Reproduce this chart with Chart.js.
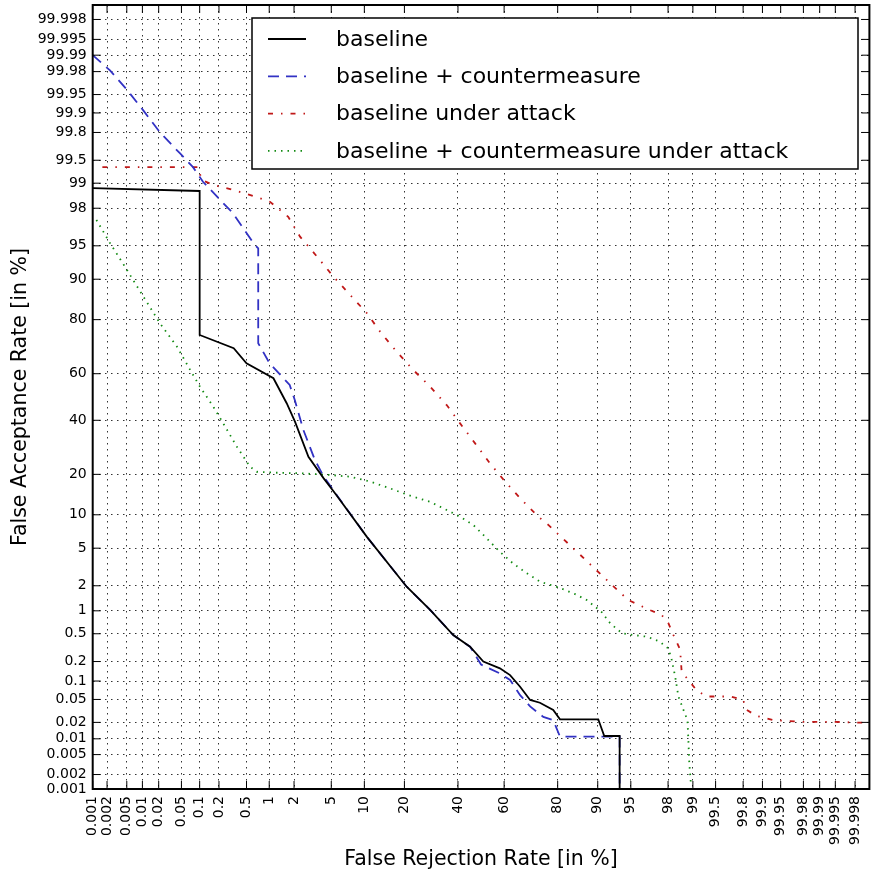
<!DOCTYPE html>
<html>
<head>
<meta charset="utf-8">
<script src="https://cdn.jsdelivr.net/npm/chart.js@4.4.0/dist/chart.umd.min.js"></script>
<style>
  html, body { margin: 0; padding: 0; background: #fff; }
  #wrap { width: 871px; height: 877px; }
</style>
</head>
<body>
<div id="wrap"><canvas id="det" width="871" height="877"></canvas></div>
<script>
// --- tick values / labels (same on both axes, in %) ---
const tickValues = [0.001, 0.002, 0.005, 0.01, 0.02, 0.05, 0.1, 0.2, 0.5, 1, 2, 5, 10, 20, 40, 60, 80,
  90, 95, 98, 99, 99.5, 99.8, 99.9, 99.95, 99.98, 99.99, 99.995, 99.998];
const tickLabels = ['0.001', '0.002', '0.005', '0.01', '0.02', '0.05', '0.1', '0.2', '0.5', '1', '2', '5', '10', '20', '40', '60', '80',
  '90', '95', '98', '99', '99.5', '99.8', '99.9', '99.95', '99.98', '99.99', '99.995', '99.998'];
const axisMin = 0.001, axisMax = 99.999;

// --- curves: FRR (x) and FAR (y), both in % ---
const baseFRR = [0.001, 0.1, 0.1, 0.33, 0.5, 1.13, 1.64, 2.05, 2.9, 4.2, 5.6, 10.5, 20.7, 28.8, 38, 45.2, 51, 58.2,
  62.5, 66.6, 70.5, 74.1, 78.6, 80.7, 90.1, 91.2, 93.6, 93.6];
const baseFAR = [98.85, 98.75, 75, 70.2, 64.3, 58.1, 47.3, 39.4, 25.8, 18.8, 14.3, 6.4, 1.95, 1.03, 0.48, 0.33, 0.2, 0.158,
  0.124, 0.081, 0.049, 0.044, 0.033, 0.0227, 0.0227, 0.0113, 0.0113, 0.001];

const cmFRR = [0.001, 0.0023, 0.0051, 0.0103, 0.0211, 0.047, 0.078, 0.113, 0.208, 0.32, 0.62, 0.72, 0.72, 1.01, 1.78,
  2.04, 2.55, 3.4, 4.2, 5.8, 10.5, 20.7, 28.8, 38, 45.2, 50, 58.2, 62.5, 66.6, 70.5, 75.3, 78.6, 80.7, 93.6, 93.6];
const cmFAR = [99.99, 99.981, 99.958, 99.91, 99.8, 99.6, 99.38, 99.04, 98.4, 97.74, 95.3, 94.7, 72.1, 64.3, 55.2,
  48.7, 36, 24.7, 19.3, 13.9, 6.4, 1.95, 1.03, 0.48, 0.33, 0.18, 0.132, 0.104, 0.059, 0.038, 0.025, 0.022, 0.011, 0.011, 0.001];

const atkFRR = [0.0016, 0.094, 0.108, 0.162, 0.32, 0.51, 1.02, 1.71, 2.34, 3.7, 5.24, 7.5, 10.5, 13.4, 17.7, 22.8,
  28.8, 35.3, 40.9, 47.4, 53.9, 60.4, 67.3, 73.5, 77, 84.9, 90.7, 92.2, 94.7, 96.83, 97.64, 98.02, 98.27, 98.56,
  98.62, 98.86, 99.11, 99.34, 99.69, 99.8, 99.824, 99.877, 99.934, 99.977, 99.9945, 99.9987];
const atkFAR = [99.38, 99.38, 99.09, 98.95, 98.79, 98.64, 98.32, 97.5, 95.95, 93.45, 90.5, 86.7, 81.9, 76.1, 68.9, 61.6,
  54.5, 46.5, 38.7, 30.7, 23.5, 17.9, 13.1, 9.65, 8.2, 4.8, 2.64, 2.13, 1.36, 1.02, 0.885, 0.69, 0.48, 0.3,
  0.14, 0.104, 0.07, 0.056, 0.056, 0.049, 0.033, 0.026, 0.022, 0.0205, 0.0205, 0.0197];

const cmAtkFRR = [0.0012, 0.0023, 0.005, 0.0104, 0.021, 0.042, 0.07, 0.101, 0.164, 0.232, 0.365, 0.56, 0.69, 1.24,
  2.55, 4.9, 7.5, 11.1, 15.9, 21.2, 28.8, 35.3, 40.9, 46.6, 52.5, 58.2, 63.8, 69.2, 74.1, 80.7, 84.9, 87.7, 90.7,
  92.2, 93.9, 95.3, 96.6, 97.5, 98.02, 98.19, 98.35, 98.49, 98.69, 98.83, 98.86, 98.89, 98.94];
const cmAtkFAR = [97.3, 95.3, 91.7, 86.3, 78.9, 70.8, 61.6, 54.5, 45.8, 38.7, 29.5, 22.4, 20.8, 20.5,
  20.3, 19.8, 19.3, 17.9, 16, 14.3, 12.7, 10.95, 9.65, 8.2, 6.2, 4.6, 3.5, 2.76, 2.23, 1.89, 1.6, 1.36, 0.97,
  0.69, 0.51, 0.48, 0.455, 0.39, 0.31, 0.21, 0.117, 0.056, 0.033, 0.022, 0.0095, 0.0034, 0.0013];

const seriesNames = ['baseline', 'baseline + countermeasure', 'baseline under attack', 'baseline + countermeasure under attack'];

// --- normal deviate helpers (Acklam inverse CDF) ---
function probit(p) {
  p = Math.min(Math.max(p, 1e-12), 1 - 1e-12);
  const a = [-3.969683028665376e+01, 2.209460984245205e+02, -2.759285104469687e+02, 1.383577518672690e+02, -3.066479806614716e+01, 2.506628277459239e+00];
  const b = [-5.447609879822406e+01, 1.615858368580409e+02, -1.556989798598866e+02, 6.680131188771972e+01, -1.328068155288572e+01];
  const c = [-7.784894002430293e-03, -3.223964580411365e-01, -2.400758277161838e+00, -2.549671348736100e+00, 4.374664141464968e+00, 2.938163982698783e+00];
  const d = [7.784695709041462e-03, 3.224671290700398e-01, 2.445134137142996e+00, 3.754408661907416e+00];
  const pl = 0.02425;
  let q, r;
  if (p < pl) {
    q = Math.sqrt(-2 * Math.log(p));
    return (((((c[0]*q+c[1])*q+c[2])*q+c[3])*q+c[4])*q+c[5]) / ((((d[0]*q+d[1])*q+d[2])*q+d[3])*q+1);
  }
  if (p <= 1 - pl) {
    q = p - 0.5; r = q * q;
    return (((((a[0]*r+a[1])*r+a[2])*r+a[3])*r+a[4])*r+a[5])*q / (((((b[0]*r+b[1])*r+b[2])*r+b[3])*r+b[4])*r+1);
  }
  q = Math.sqrt(-2 * Math.log(1 - p));
  return -(((((c[0]*q+c[1])*q+c[2])*q+c[3])*q+c[4])*q+c[5]) / ((((d[0]*q+d[1])*q+d[2])*q+d[3])*q+1);
}
function normCdf(z) {
  const t = 1 / (1 + 0.3275911 * Math.abs(z) / Math.SQRT2);
  const e = 1 - (((((1.061405429*t - 1.453152027)*t) + 1.421413741)*t - 0.284496736)*t + 0.254829592)*t*Math.exp(-z*z/2);
  return z >= 0 ? (1 + e) / 2 : (1 - e) / 2;
}

// --- custom probit ("DET") scale ---
class ProbitScale extends Chart.Scale {
  determineDataLimits() {
    this.min = this.options.min;
    this.max = this.options.max;
  }
  buildTicks() {
    return tickValues.map(v => ({ value: v }));
  }
  configure() {
    super.configure();
    this._zMin = probit(this.min / 100);
    this._zMax = probit(this.max / 100);
  }
  getLabelForValue(v) { return String(v); }
  getPixelForValue(v) {
    const z = probit(v / 100);
    return this.getPixelForDecimal((z - this._zMin) / (this._zMax - this._zMin));
  }
  getPixelForTick(i) {
    return this.getPixelForValue(this.ticks[i].value);
  }
  getValueForPixel(px) {
    const d = this.getDecimalForPixel(px);
    return 100 * normCdf(this._zMin + d * (this._zMax - this._zMin));
  }
}
ProbitScale.id = 'probit';
ProbitScale.defaults = {};
Chart.register(ProbitScale);

const pts = (xs, ys) => xs.map((x, i) => ({ x: x, y: ys[i] }));

// --- frame, inward tick marks and legend inside the axes ---
const legendStyles = [
  { color: '#000000', dash: [] },
  { color: '#3232c4', dash: [11, 7] },
  { color: '#c01818', dash: [5, 8, 1.5, 8] },
  { color: '#128a12', dash: [1.5, 5] }
];
const framePlugin = {
  id: 'frame',
  afterDatasetsDraw(chart) {
    const { ctx, chartArea: a, scales: { x, y } } = chart;
    ctx.save();
    ctx.strokeStyle = '#000';
    ctx.lineWidth = 1;
    ctx.beginPath();
    x.ticks.forEach(t => {
      const px = x.getPixelForValue(t.value);
      ctx.moveTo(px, a.bottom); ctx.lineTo(px, a.bottom - 8);
      ctx.moveTo(px, a.top); ctx.lineTo(px, a.top + 8);
    });
    y.ticks.forEach(t => {
      const py = y.getPixelForValue(t.value);
      ctx.moveTo(a.left, py); ctx.lineTo(a.left + 8, py);
      ctx.moveTo(a.right, py); ctx.lineTo(a.right - 8, py);
    });
    ctx.stroke();
    ctx.lineWidth = 2;
    ctx.strokeRect(a.left, a.top, a.right - a.left, a.bottom - a.top);

    // legend box
    const lx = 252, ly = 18, lw = 606, lh = 151;
    ctx.fillStyle = '#fff';
    ctx.fillRect(lx, ly, lw, lh);
    ctx.lineWidth = 1.5;
    ctx.strokeRect(lx, ly, lw, lh);
    ctx.font = '22px "DejaVu Sans"';
    ctx.textBaseline = 'middle';
    ctx.textAlign = 'left';
    seriesNames.forEach((name, i) => {
      const ry = 39 + i * 37.3;
      ctx.strokeStyle = legendStyles[i].color;
      ctx.lineWidth = 1.8;
      ctx.setLineDash(legendStyles[i].dash);
      ctx.beginPath();
      ctx.moveTo(268, ry); ctx.lineTo(306, ry);
      ctx.stroke();
      ctx.setLineDash([]);
      ctx.fillStyle = '#000';
      ctx.fillText(name, 336, ry + 1);
    });
    ctx.restore();
  }
};

const axisOpts = (title, padTop, padBottom) => ({
  type: 'probit',
  min: axisMin,
  max: axisMax,
  grid: { color: 'rgba(0,0,0,0.8)', lineWidth: 1, drawTicks: false },
  border: { display: false, dash: [1.5, 4.5] },
  title: { display: true, text: title, color: '#000', font: { size: 20.5 }, padding: { top: padTop, bottom: padBottom } },
});

const xOpts = axisOpts('False Rejection Rate [in %]', 0, 5);
xOpts.ticks = { autoSkip: false, minRotation: 90, maxRotation: 90, padding: 7, color: '#000', font: { size: 14 },
  callback: (v, i) => tickLabels[i] };
xOpts.afterFit = s => { s.height = 88; s.paddingLeft = 0; s.paddingRight = 0; };

const yOpts = axisOpts('False Acceptance Rate [in %]', 8, 0);
yOpts.ticks = { autoSkip: false, padding: 6, color: '#000', font: { size: 14 },
  callback: (v, i) => tickLabels[i] };
yOpts.afterFit = s => { s.width = 92.7; s.paddingTop = 0; s.paddingBottom = 0; };

Chart.defaults.font.family = '"DejaVu Sans", sans-serif';

new Chart(document.getElementById('det').getContext('2d'), {
  type: 'line',
  data: {
    datasets: [
      { label: seriesNames[0], data: pts(baseFRR, baseFAR), borderColor: legendStyles[0].color, borderWidth: 1.8 },
      { label: seriesNames[1], data: pts(cmFRR, cmFAR), borderColor: legendStyles[1].color, borderWidth: 1.8, borderDash: legendStyles[1].dash },
      { label: seriesNames[2], data: pts(atkFRR, atkFAR), borderColor: legendStyles[2].color, borderWidth: 1.8, borderDash: legendStyles[2].dash },
      { label: seriesNames[3], data: pts(cmAtkFRR, cmAtkFAR), borderColor: legendStyles[3].color, borderWidth: 1.8, borderDash: legendStyles[3].dash }
    ]
  },
  options: {
    responsive: false,
    animation: false,
    events: [],
    devicePixelRatio: 1,
    layout: { padding: { top: 5, right: 1.6, left: 0, bottom: 0 } },
    elements: { point: { radius: 0 }, line: { tension: 0, fill: false } },
    plugins: { legend: { display: false }, tooltip: { enabled: false } },
    scales: { x: xOpts, y: yOpts }
  },
  plugins: [framePlugin]
});
</script>
</body>
</html>
